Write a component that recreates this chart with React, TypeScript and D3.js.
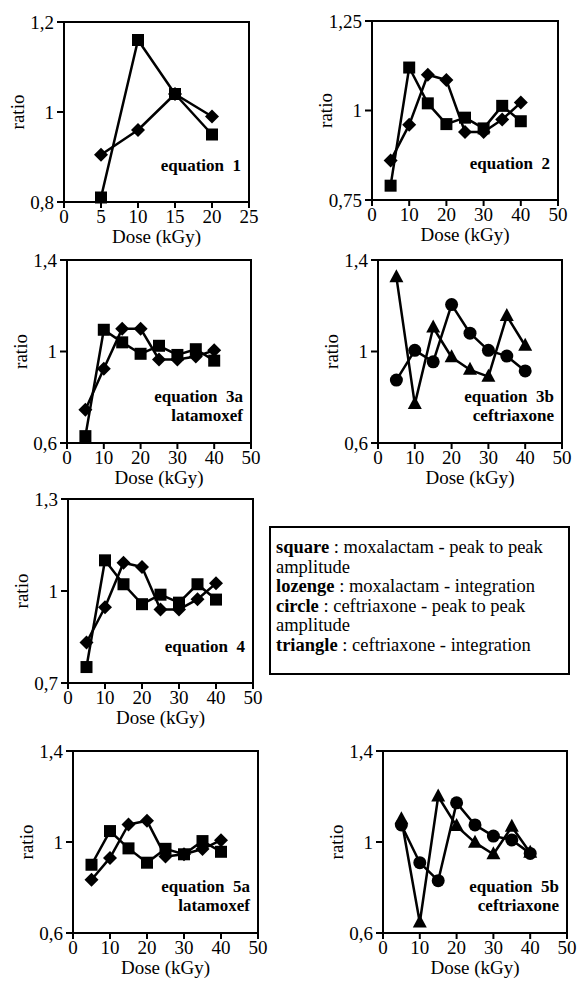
import React from "react";
import * as d3 from "d3";

// ---------- data ----------
const doses20 = [5, 10, 15, 20];
const doses40 = [5, 10, 15, 20, 25, 30, 35, 40];

const eq1Square = [0.81, 1.16, 1.04, 0.95];
const eq1Lozenge = [0.905, 0.96, 1.04, 0.99];

const eq2Square = [0.79, 1.12, 1.02, 0.962, 0.98, 0.95, 1.013, 0.97];
const eq2Lozenge = [0.86, 0.96, 1.1, 1.085, 0.94, 0.94, 0.975, 1.022];

const eq3aSquare = [0.63, 1.095, 1.04, 0.99, 1.025, 0.985, 1.01, 0.96];
const eq3aLozenge = [0.745, 0.925, 1.1, 1.1, 0.965, 0.965, 0.978, 1.005];

const eq3bCircle = [0.875, 1.005, 0.955, 1.205, 1.08, 1.005, 0.98, 0.915];
const eq3bTriangle = [1.325, 0.77, 1.105, 0.975, 0.92, 0.89, 1.155, 1.025];

const eq4Square = [0.752, 1.1, 1.022, 0.957, 0.988, 0.962, 1.022, 0.972];
const eq4Lozenge = [0.832, 0.947, 1.092, 1.078, 0.94, 0.94, 0.973, 1.025];

const eq5aSquare = [0.9, 1.048, 0.972, 0.909, 0.97, 0.946, 1.004, 0.957];
const eq5aLozenge = [0.834, 0.93, 1.077, 1.093, 0.936, 0.946, 0.969, 1.008];

const eq5bCircle = [1.075, 0.909, 0.83, 1.172, 1.075, 1.026, 1.009, 0.95];
const eq5bTriangle = [1.1, 0.646, 1.2, 1.07, 0.997, 0.946, 1.067, 0.953];

const xTicks25 = [0, 5, 10, 15, 20, 25];
const xTicks50 = [0, 10, 20, 30, 40, 50];
const yTicks1 = [0.8, 1, 1.2];
const yLabels1 = ["0,8", "1", "1,2"];
const yTicks2 = [0.75, 1, 1.25];
const yLabels2 = ["0,75", "1", "1,25"];
const yTicks3 = [0.6, 1, 1.4];
const yLabels3 = ["0,6", "1", "1,4"];
const yTicks4 = [0.7, 1, 1.3];
const yLabels4 = ["0,7", "1", "1,3"];

const xTitle = "Dose (kGy)";
const yTitle = "ratio";

const legendLines = [
  { bold: "square", rest: " : moxalactam - peak to peak" },
  { bold: "", rest: "amplitude" },
  { bold: "lozenge", rest: " : moxalactam - integration" },
  { bold: "circle", rest: " : ceftriaxone - peak to peak" },
  { bold: "", rest: "amplitude" },
  { bold: "triangle", rest: " : ceftriaxone - integration" },
];

type Series = { x: number[]; y: number[]; shape: string };
type Panel = {
  left: number; right: number; top: number; bottom: number;
  xMax: number; xTicks: number[];
  yTicks: number[]; yLabels: string[];
  series: Series[];
  labels: string[];
};

const panels: Panel[] = [
  { left: 64, right: 249, top: 22, bottom: 202, xMax: 25, xTicks: xTicks25, yTicks: yTicks1, yLabels: yLabels1,
    series: [{ x: doses20, y: eq1Square, shape: "square" }, { x: doses20, y: eq1Lozenge, shape: "diamond" }],
    labels: ["equation  1"] },
  { left: 372, right: 558, top: 21, bottom: 200, xMax: 50, xTicks: xTicks50, yTicks: yTicks2, yLabels: yLabels2,
    series: [{ x: doses40, y: eq2Square, shape: "square" }, { x: doses40, y: eq2Lozenge, shape: "diamond" }],
    labels: ["equation  2"] },
  { left: 67, right: 251, top: 260, bottom: 443, xMax: 50, xTicks: xTicks50, yTicks: yTicks3, yLabels: yLabels3,
    series: [{ x: doses40, y: eq3aSquare, shape: "square" }, { x: doses40, y: eq3aLozenge, shape: "diamond" }],
    labels: ["equation  3a", "latamoxef"] },
  { left: 378, right: 562, top: 260, bottom: 443, xMax: 50, xTicks: xTicks50, yTicks: yTicks3, yLabels: yLabels3,
    series: [{ x: doses40, y: eq3bCircle, shape: "circle" }, { x: doses40, y: eq3bTriangle, shape: "triangle" }],
    labels: ["equation  3b", "ceftriaxone"] },
  { left: 68, right: 253, top: 499, bottom: 683, xMax: 50, xTicks: xTicks50, yTicks: yTicks4, yLabels: yLabels4,
    series: [{ x: doses40, y: eq4Square, shape: "square" }, { x: doses40, y: eq4Lozenge, shape: "diamond" }],
    labels: ["equation  4"] },
  { left: 73, right: 258, top: 751, bottom: 933, xMax: 50, xTicks: xTicks50, yTicks: yTicks3, yLabels: yLabels3,
    series: [{ x: doses40, y: eq5aSquare, shape: "square" }, { x: doses40, y: eq5aLozenge, shape: "diamond" }],
    labels: ["equation  5a", "latamoxef"] },
  { left: 383, right: 567, top: 751, bottom: 933, xMax: 50, xTicks: xTicks50, yTicks: yTicks3, yLabels: yLabels3,
    series: [{ x: doses40, y: eq5bCircle, shape: "circle" }, { x: doses40, y: eq5bTriangle, shape: "triangle" }],
    labels: ["equation  5b", "ceftriaxone"] },
];

const FONT = "Liberation Serif, DejaVu Serif, serif";

function marker(shape: string, cx: number, cy: number, key: string) {
  if (shape === "square") {
    return <rect key={key} x={cx - 6} y={cy - 6} width={12} height={12} fill="#000" />;
  }
  if (shape === "diamond") {
    const r = 7;
    return <path key={key} d={`M${cx},${cy - r}L${cx + r},${cy}L${cx},${cy + r}L${cx - r},${cy}Z`} fill="#000" />;
  }
  if (shape === "circle") {
    return <circle key={key} cx={cx} cy={cy} r={6.5} fill="#000" />;
  }
  return <path key={key} d={`M${cx},${cy - 8}L${cx + 7},${cy + 5}L${cx - 7},${cy + 5}Z`} fill="#000" />;
}

function PanelView({ p, idx }: { p: Panel; idx: number }) {
  const x = d3.scaleLinear().domain([0, p.xMax]).range([p.left, p.right]);
  const y = d3.scaleLinear().domain([p.yTicks[0], p.yTicks[p.yTicks.length - 1]]).range([p.bottom, p.top]);
  const line = d3.line<[number, number]>().x((d) => x(d[0])).y((d) => y(d[1]));
  const cxMid = (p.left + p.right) / 2;
  const cyMid = (p.top + p.bottom) / 2;
  const nLab = p.labels.length;
  return (
    <g>
      <rect x={p.left} y={p.top} width={p.right - p.left} height={p.bottom - p.top} fill="none" stroke="#000" strokeWidth={2} />
      {p.yTicks.map((t, i) => (
        <g key={"y" + i}>
          <line x1={p.left - 7} x2={p.left} y1={y(t)} y2={y(t)} stroke="#000" strokeWidth={2} />
          <text x={p.left - 10} y={y(t)} dy="0.35em" textAnchor="end" fontSize={19}>{p.yLabels[i]}</text>
        </g>
      ))}
      {p.xTicks.map((t, i) => (
        <g key={"x" + i}>
          <line x1={x(t)} x2={x(t)} y1={p.bottom} y2={p.bottom + 6} stroke="#000" strokeWidth={2} />
          <text x={x(t)} y={p.bottom + 21} textAnchor="middle" fontSize={19}>{t}</text>
        </g>
      ))}
      <text x={cxMid} y={p.bottom + 41} textAnchor="middle" fontSize={19}>{xTitle}</text>
      <text transform={`translate(${p.left - 40},${cyMid}) rotate(-90)`} textAnchor="middle" fontSize={19}>{yTitle}</text>
      {p.series.map((s, si) => {
        const pts: [number, number][] = s.x.map((v, i) => [v, s.y[i]]);
        return (
          <g key={"s" + si}>
            <path d={line(pts) || ""} fill="none" stroke="#000" strokeWidth={2.5} strokeLinejoin="round" />
            {pts.map((pt, i) => marker(s.shape, x(pt[0]), y(pt[1]), `m${idx}-${si}-${i}`))}
          </g>
        );
      })}
      {p.labels.map((l, i) => (
        <text key={"l" + i} x={p.right - 8} y={p.bottom - 22 - (nLab - 1 - i) * 19 - (nLab === 1 ? 9 : 0)}
          textAnchor="end" fontSize={17} fontWeight="bold" style={{ whiteSpace: "pre" }}>{l}</text>
      ))}
    </g>
  );
}

export default function App() {
  const legend = { left: 270, right: 569, top: 527, bottom: 674 };
  return (
    <svg width={577} height={981} fontFamily={FONT}
      style={{ position: "absolute", left: 0, top: 0, background: "#fff", fontFamily: FONT }}>
      <rect x={0} y={0} width={577} height={981} fill="#fff" />
      {panels.map((p, i) => <PanelView key={i} p={p} idx={i} />)}
      <rect x={legend.left} y={legend.top} width={legend.right - legend.left} height={legend.bottom - legend.top}
        fill="none" stroke="#000" strokeWidth={2} />
      {legendLines.map((l, i) => (
        <text key={i} x={legend.left + 6} y={legend.top + 26 + i * 19.5} fontSize={18.5} style={{ whiteSpace: "pre" }}>
          {l.bold ? <tspan fontWeight="bold">{l.bold}</tspan> : null}
          <tspan>{l.rest}</tspan>
        </text>
      ))}
    </svg>
  );
}
